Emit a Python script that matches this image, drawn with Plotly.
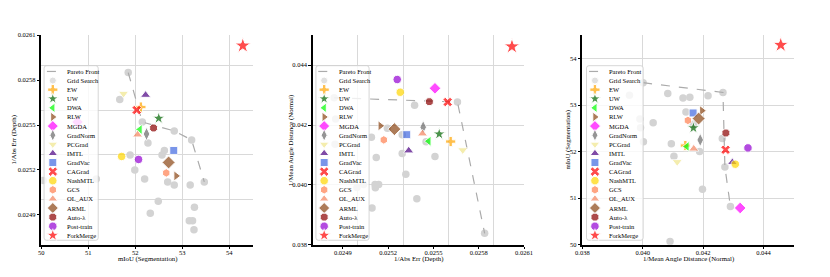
import plotly.graph_objects as go

W, H = 830, 277
FONT = "Liberation Serif"

# ---------------- data ----------------
methods = ["EW", "UW", "DWA", "RLW", "MGDA", "GradNorm", "PCGrad", "IMTL", "GradVac",
           "CAGrad", "NashMTL", "GCS", "OL_AUX", "ARML", "Auto-λ", "Post-train", "ForkMerge"]

# Panel 1: mIoU (Segmentation) vs 1/Abs Err (Depth)
p1_method_seg = [52.12, 52.50, 52.10, 52.87, 50.77, 52.24, 51.75, 52.22, 52.82,
                 52.03, 51.71, 52.66, 52.05, 52.71, 52.39, 52.07, 54.29]
p1_method_depth = [0.02562, 0.025545, 0.02547, 0.02516, 0.02552, 0.02544, 0.02571, 0.02570, 0.02533,
                   0.02560, 0.02529, 0.02518, 0.025435, 0.02525, 0.02548, 0.02527, 0.02603]
p1_grid_seg = [51.85, 51.67, 52.15, 52.83, 53.20, 52.27, 52.62, 52.57, 51.89, 51.99, 52.20, 52.69,
               52.83, 53.17, 53.47, 51.17, 50.04, 52.49, 53.26, 52.32, 53.15, 53.22, 53.25]
p1_grid_depth = [0.02585, 0.02567, 0.02552, 0.02546, 0.02540, 0.02538, 0.02533, 0.02530, 0.02530,
                 0.02520, 0.02514, 0.02512, 0.02510, 0.02510, 0.02512, 0.02514, 0.02513, 0.02499,
                 0.02495, 0.02491, 0.02486, 0.02486, 0.02480]
p1_pareto_seg = [51.85, 52.15, 52.83, 53.20, 53.47]
p1_pareto_depth = [0.02585, 0.02552, 0.02546, 0.02540, 0.02512]

# Panel 2: 1/Abs Err (Depth) vs 1/Mean Angle Distance (Normal)
p2_method_depth = [0.025614, 0.025538, 0.025469, 0.025148, 0.025510, 0.025432, 0.025694, 0.025336,
                   0.025323, 0.025594, 0.025280, 0.025171, 0.025427, 0.025241, 0.025473, 0.025260,
                   0.026020]
p2_method_normal = [0.041448, 0.041699, 0.041459, 0.041972, 0.043226, 0.041928, 0.041165, 0.041143,
                    0.041677, 0.042768, 0.043095, 0.041503, 0.041710, 0.041863, 0.042779, 0.043520,
                    0.044622]
p2_grid_depth = [0.024842, 0.025659, 0.025375, 0.025839, 0.025195, 0.025293, 0.025451, 0.025089,
                 0.025293, 0.025510, 0.025121, 0.025317, 0.025113, 0.025137, 0.025115, 0.025390,
                 0.025093, 0.025037, 0.024993, 0.024852, 0.024848]
p2_grid_normal = [0.042909, 0.042768, 0.042659, 0.038384, 0.041895, 0.041677, 0.041437, 0.041590,
                  0.041045, 0.040947, 0.040914, 0.040358, 0.040009, 0.040009, 0.039900, 0.039540,
                  0.039224, 0.040009, 0.039911, 0.042201, 0.041361]
p2_pareto_depth = [0.024842, 0.025659, 0.025839]
p2_pareto_normal = [0.042909, 0.042768, 0.038384]

# Panel 3: 1/Mean Angle Distance (Normal) vs mIoU (Segmentation)
p3_method_normal = [0.041409, 0.041677, 0.041462, 0.041957, 0.043226, 0.041903, 0.041140, 0.042968,
                    0.041667, 0.042742, 0.043065, 0.041495, 0.041688, 0.041849, 0.042753, 0.043484,
                    0.044570]
p3_method_seg = [52.13, 52.51, 52.11, 52.88, 50.79, 52.25, 51.78, 51.77, 52.83,
                 52.04, 51.73, 52.67, 52.06, 52.71, 52.40, 52.08, 54.29]
p3_grid_normal = [0.040011, 0.039559, 0.040828, 0.041333, 0.041559, 0.042161, 0.042656, 0.039903,
                  0.040344, 0.039925, 0.041430, 0.041677, 0.040022, 0.040946, 0.041032, 0.041882,
                  0.042634, 0.042720, 0.041978, 0.042903, 0.040903]
p3_grid_seg = [53.48, 53.21, 53.25, 53.15, 53.17, 53.20, 53.27, 52.70, 52.62, 52.51, 52.85, 52.59,
               52.21, 52.17, 51.90, 52.00, 52.28, 51.67, 51.19, 50.82, 50.07]
p3_pareto_normal = [0.040011, 0.042656, 0.042720, 0.042903]
p3_pareto_seg = [53.48, 53.27, 51.67, 50.82]

depth_ticks = [0.0249, 0.0252, 0.0255, 0.0258, 0.0261]
depth_tick_labels = ["0.0249", "0.0252", "0.0255", "0.0258", "0.0261"]
depth_grid = [0.0250, 0.0253, 0.0256, 0.0259]
normal_ticks = [0.038, 0.040, 0.042, 0.044]
normal_tick_labels = ["0.038", "0.040", "0.042", "0.044"]
seg_ticks = [50, 51, 52, 53, 54]
seg_tick_labels = ["50", "51", "52", "53", "54"]

# ---------------- styles ----------------
m_symbols = ["cross", "star", "triangle-left", "triangle-right", "diamond", "diamond-tall",
             "triangle-down", "triangle-up", "square", "x", "circle", "hexagon", "triangle-up",
             "diamond", "octagon", "circle", "star"]
m_colors = ["#FFA500", "#006400", "#00FF00", "#8B4513", "#FF00FF", "#696969", "#F0E68C",
            "#4B0082", "#4169E1", "#FF0000", "#FFD700", "#FF7F50", "#F4845F", "#8B4513",
            "#8B0000", "#9400D3", "#FF0000"]
m_sizes = [8.5, 9.5, 9, 9, 9, 9.5, 9, 9, 8, 8.5, 8.5, 8.5, 9, 10, 8.5, 8.5, 12]
GRID_COLOR = "#d3d3d3"
PARETO_COLOR = "#ababab"
GRIDLINE = "#d9d9d9"

fig = go.Figure()

panels = [
    dict(xa="x", ya="y", gx=p1_grid_seg, gy=p1_grid_depth, px=p1_pareto_seg, py=p1_pareto_depth,
         mx=p1_method_seg, my=p1_method_depth),
    dict(xa="x2", ya="y2", gx=p2_grid_depth, gy=p2_grid_normal, px=p2_pareto_depth, py=p2_pareto_normal,
         mx=p2_method_depth, my=p2_method_normal),
    dict(xa="x3", ya="y3", gx=p3_grid_normal, gy=p3_grid_seg, px=p3_pareto_normal, py=p3_pareto_seg,
         mx=p3_method_normal, my=p3_method_seg),
]
for p in panels:
    fig.add_trace(go.Scatter(x=p["gx"], y=p["gy"], mode="markers", xaxis=p["xa"], yaxis=p["ya"],
                             marker=dict(symbol="circle", color=GRID_COLOR, size=7.5),
                             showlegend=False, hoverinfo="skip"))
    fig.add_trace(go.Scatter(x=p["px"], y=p["py"], mode="lines", xaxis=p["xa"], yaxis=p["ya"],
                             line=dict(color=PARETO_COLOR, width=1.2, dash="dash"),
                             showlegend=False, hoverinfo="skip"))
    fig.add_trace(go.Scatter(x=p["mx"], y=p["my"], mode="markers", xaxis=p["xa"], yaxis=p["ya"],
                             marker=dict(symbol=m_symbols, color=m_colors, size=m_sizes),
                             text=methods, showlegend=False))

# ---------------- layout ----------------
TOP, BOT = 32, 247
lefts = [35, 311.7, 586.7]
PW = 215.5


def dom_x(i):
    return [lefts[i] / W, (lefts[i] + PW) / W]


dom_y = [1 - BOT / H, 1 - TOP / H]


def base_axis(domain, anchor, rng, tv, tt, grid=True, minor_vals=None, standoff=0):
    d = dict(domain=domain, anchor=anchor, range=rng, tickmode="array", tickvals=tv, ticktext=tt,
             showline=True, linecolor="black", linewidth=2, mirror=False,
             ticks="outside", ticklen=2.5, tickwidth=0.8, tickcolor="black",
             tickfont=dict(family=FONT, size=6.5, color="black"), ticklabelstandoff=standoff,
             showgrid=grid, gridcolor=GRIDLINE, gridwidth=0.8, zeroline=False, fixedrange=True)
    if minor_vals is not None:
        d["minor"] = dict(tickmode="array", tickvals=minor_vals, showgrid=True,
                          gridcolor=GRIDLINE, gridwidth=0.8, ticks="")
    return d


layout = dict(
    width=W, height=H, margin=dict(l=0, r=0, t=0, b=0),
    paper_bgcolor="white", plot_bgcolor="rgba(0,0,0,0)", showlegend=False,
    font=dict(family=FONT, color="black"),
    xaxis=base_axis(dom_x(0), "y", [50, 54.5], seg_ticks, seg_tick_labels, standoff=-2),
    yaxis=base_axis(dom_y, "x", [0.0247, 0.0261], depth_ticks, depth_tick_labels,
                    grid=False, minor_vals=depth_grid),
    xaxis2=base_axis(dom_x(1), "y2", [0.0247, 0.0261], depth_ticks, depth_tick_labels,
                     grid=False, minor_vals=depth_grid, standoff=-2),
    yaxis2=base_axis(dom_y, "x2", [0.038, 0.045], normal_ticks, normal_tick_labels),
    xaxis3=base_axis(dom_x(2), "y3", [0.038, 0.045], normal_ticks, normal_tick_labels, standoff=-2),
    yaxis3=base_axis(dom_y, "x3", [50, 54.5], seg_ticks, seg_tick_labels),
    xaxis4=dict(domain=[0, 1], anchor="y4", range=[0, W], visible=False, fixedrange=True),
    yaxis4=dict(domain=[0, 1], anchor="x4", range=[H, 0], visible=False, fixedrange=True),
)
fig.update_layout(**layout)

annotations = []
shapes = []

# axis titles
titles = [("mIoU (Segmentation)", "1/Abs Err (Depth)"),
          ("1/Abs Err (Depth)", "1/Mean Angle Distance (Normal)"),
          ("1/Mean Angle Distance (Normal)", "mIoU (Segmentation)")]
ytitle_x = [6.7, 289.5, 571.5]
for i, (xt, yt) in enumerate(titles):
    annotations.append(dict(x=lefts[i] + PW / 2, y=261.5, xref="x4", yref="y4", text=xt,
                            showarrow=False, xanchor="center", yanchor="middle",
                            font=dict(family=FONT, size=6.8, color="black")))
    annotations.append(dict(x=ytitle_x[i], y=(TOP + BOT) / 2, xref="x4", yref="y4", text=yt,
                            showarrow=False, textangle=-90, xanchor="center", yanchor="middle",
                            font=dict(family=FONT, size=6.8, color="black")))

# legends (drawn manually: plotly's native legend cannot be this compact)
legend_labels = ["Pareto Front", "Grid Search"] + methods
leg_sym = ["circle"] + m_symbols
leg_col = [GRID_COLOR] + m_colors
leg_size = [7] + [min(s, 8.5) for s in m_sizes[:-1]] + [9.5]
ROW0, ROWSTEP = 69.2, 9.34
box_l = [2.8, 3.3, 4.2]
box_r = [58.0, 57.5, 62.0]
mk_off = [11.7, 11.7, 12.8]
tx_off = [24.2, 24.3, 25.4]
for i in range(3):
    L = lefts[i]
    x0, x1, y0, y1, r = L + box_l[i], L + box_r[i], 63.3, 242.4, 2.5
    path = (f"M {x0 + r},{y0} L {x1 - r},{y0} Q {x1},{y0} {x1},{y0 + r} L {x1},{y1 - r} "
            f"Q {x1},{y1} {x1 - r},{y1} L {x0 + r},{y1} Q {x0},{y1} {x0},{y1 - r} "
            f"L {x0},{y0 + r} Q {x0},{y0} {x0 + r},{y0} Z")
    shapes.append(dict(type="path", path=path, xref="x4", yref="y4", layer="below",
                       fillcolor="rgba(255,255,255,0.8)", line=dict(color="#cccccc", width=0.8)))
    mx = L + mk_off[i]
    rows = [ROW0 + ROWSTEP * k for k in range(len(legend_labels))]
    fig.add_trace(go.Scatter(x=[mx - 6, mx + 6], y=[rows[0], rows[0]], mode="lines",
                             xaxis="x4", yaxis="y4", showlegend=False, hoverinfo="skip",
                             line=dict(color=PARETO_COLOR, width=1.2, dash="dash")))
    fig.add_trace(go.Scatter(x=[mx] * (len(rows) - 1), y=rows[1:], mode="markers",
                             xaxis="x4", yaxis="y4", showlegend=False, hoverinfo="skip",
                             marker=dict(symbol=leg_sym, color=leg_col, size=leg_size)))
    for k, lab in enumerate(legend_labels):
        annotations.append(dict(x=L + tx_off[i], y=rows[k], xref="x4", yref="y4", text=lab,
                                showarrow=False, xanchor="left", yanchor="middle",
                                font=dict(family=FONT, size=6.5, color="black")))

fig.update_layout(annotations=annotations, shapes=shapes)
fig.write_html("out.html", config={"displayModeBar": False},
               post_script="document.body.style.margin='0';")
